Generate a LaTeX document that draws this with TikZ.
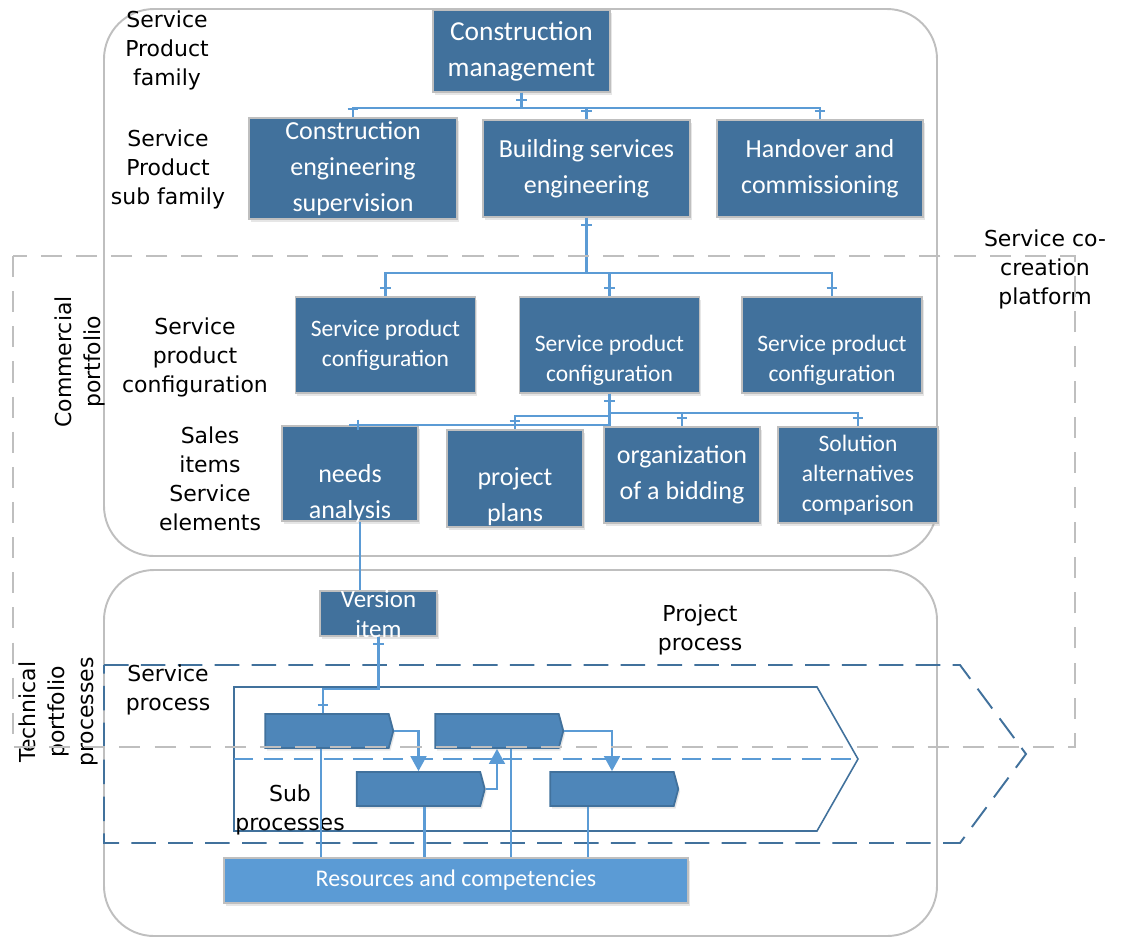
\documentclass[tikz,border=0pt]{standalone}
\usepackage{fontspec}
\setmainfont{Carlito}
\newfontfamily\hand{DejaVu Sans}
\usetikzlibrary{arrows.meta,shapes.symbols,shadows,decorations.markings}
\definecolor{boxblue}{HTML}{41719C}
\definecolor{procblue}{HTML}{4E86B9}
\definecolor{linkblue}{HTML}{5B9BD5}
\definecolor{frame}{HTML}{BFBFBF}
\def\px{0.02cm}
\tikzset{
  boxtext/.style={text=white,align=center,font=\fontsize{14.8}{20.5}\selectfont},
  box/.style={boxtext,draw=frame,line width=1pt,fill=boxblue,inner sep=2pt,
    drop shadow={opacity=0.2,shadow xshift=1pt,shadow yshift=-1.5pt}},
  small/.style={font=\fontsize{13.4}{17}\selectfont},
  proc/.style={signal,signal to=east,signal pointer angle=150,draw=boxblue,line width=1pt,
    fill=procblue,inner sep=0pt,minimum width=128*\px,minimum height=34*\px,
    drop shadow={opacity=0.2,shadow xshift=1pt,shadow yshift=-1.5pt}},
  link/.style={draw=linkblue,line width=1.2pt},
  ticked/.style={postaction={decorate,decoration={markings,
    mark=at position 4pt with {\draw[linkblue,line width=1.2pt] (0,-3pt)--(0,3pt);},
    mark=at position -4.5pt with {\draw[linkblue,line width=1.2pt] (0,-3pt)--(0,3pt);}}}},
  flow/.style={link,-{Triangle[length=8.5pt,width=9pt]}},
  note/.style={font=\hand\fontsize{12.5}{16.5}\selectfont,align=center},
  panel/.style={draw=frame,line width=1.1pt,rounded corners=1cm},
}
\begin{document}
\begin{tikzpicture}[x=\px,y=-\px]
\useasboundingbox (0,0) rectangle (1123,938);
% commercial and technical panels
\draw[panel] (104,9) rectangle (937,556);
\draw[panel] (104,570) rectangle (937,936);
% project process and service process
\draw[boxblue,line width=1.1pt,dash pattern=on 14pt off 7pt] (104,665) -- (960,665) -- (1026,754) -- (960,843) -- (104,843) -- cycle;
\draw[boxblue,line width=0.9pt] (234,687) -- (817,687) -- (858,759) -- (817,831) -- (234,831) -- cycle;
\draw[linkblue,line width=1.1pt,dash pattern=on 11pt off 6pt] (234,759) -- (858,759);

% labels
\node[note] (famlbl) at (167,50) {Service\\Product\\family};
\node[note] (sublbl) at (168,169) {Service\\Product\\sub family};
\node[note] (ccplbl) at (1045,269) {Service co-\\creation\\platform};
\node[note,rotate=90] (comlbl) at (80,362) {Commercial\\portfolio};
\node[note] (spclbl) at (195,357) {Service\\product\\configuration};
\node[note] (sallbl) at (210,479) {Sales\\items\\Service\\elements};
\node[note] (prjlbl) at (700,630) {Project\\process};
\node[note,rotate=90] (teclbl) at (58,712) {Technical\\portfolio\\processes};
\node[note] (srvlbl) at (168,690) {Service\\process};
\node[note] (prclbl) at (290,810) {Sub\\processes};

% product family tree
\node[box,font=\fontsize{15.6}{20.5}\selectfont,minimum width=177*\px,minimum height=82*\px] (cm) at (521.5,51) {Construction\\management};
\node[box,minimum width=208*\px,minimum height=97*\px] (cse) at (353,168.5) {Construction\\engineering\\supervision};
\node[box,minimum width=207*\px,minimum height=97*\px] (bse) at (586.5,168.5) {Building services\\engineering};
\node[box,minimum width=206*\px,minimum height=97*\px] (hac) at (820,168.5) {Handover and\\commissioning};
\foreach \n/\x/\t in {spc1/385.5/345,spc2/609.5/360,spc3/832/360}{
  \node[box,minimum width=180*\px,minimum height=96*\px] (\n) at (\x,345) {};
  \node[boxtext,small] (\n-txt) at (\x,\t) {Service product\\configuration};
}
\node[box,minimum width=136*\px,minimum height=95*\px] (na) at (350,473.5) {};
\node[boxtext] (natxt) at (350,494) {needs\\analysis};
\node[box,minimum width=136*\px,minimum height=97*\px] (pp) at (515,478.5) {};
\node[boxtext] (pptxt) at (515,497) {project\\plans};
\node[box,minimum width=156*\px,minimum height=96*\px] (org) at (682,475) {organization\\of a bidding};
\node[box,small,minimum width=160*\px,minimum height=96*\px] (sol) at (858,475) {Solution\\alternatives\\comparison};
\node[box,minimum width=117*\px,minimum height=45*\px] (vi) at (378.5,613.5) {};
\node[boxtext,font=\fontsize{14.2}{17}\selectfont] (vitxt) at (378.5,614) {Version\\item};

% processes
\node[proc] (p1) at (327,731) {};
\node[proc] (p2) at (497,731) {};
\node[proc] (p3) at (418.5,789) {};
\node[proc] (p4) at (612,789) {};
\node[box,fill=linkblue,font=\fontsize{13.6}{16}\selectfont,minimum width=464*\px,minimum height=45*\px] (res) at (456,880.5) {Resources and competencies};

% connectors
\foreach \n in {cse,bse,hac} \draw[link,ticked] (cm.south) -- ++(0,15) -| (\n.north);
\foreach \n in {spc1,spc2,spc3} \draw[link,ticked] (bse.south) -- ++(0,55) -| (\n.north);
\foreach \n/\d in {na/31,pp/22,org/19,sol/19} \draw[link,ticked] (spc2.south) -- ++(0,\d) -| (\n.north);
\draw[link] ([xshift=10*\px]na.south) -- ([xshift=-18.5*\px]vi.north);
\draw[link,ticked] (vi.south) -- ++(0,52) -| ([xshift=-4*\px]p1.north);
\draw[flow] (p1.east) -| (p3.north);
\draw[flow] (p3.east) -| (p2.south);
\draw[flow] (p2.east) -| (p4.north);
\foreach \n/\d in {p1/-6,p3/6,p2/14,p4/-24}
  \draw[link] ([xshift=\d*\px]\n.south) coordinate (top) -- (top |- res.north);

% service co-creation platform
\draw[frame,line width=1.1pt,dash pattern=on 12pt off 8pt] (13,256) rectangle (1075,747);
\end{tikzpicture}
\end{document}
